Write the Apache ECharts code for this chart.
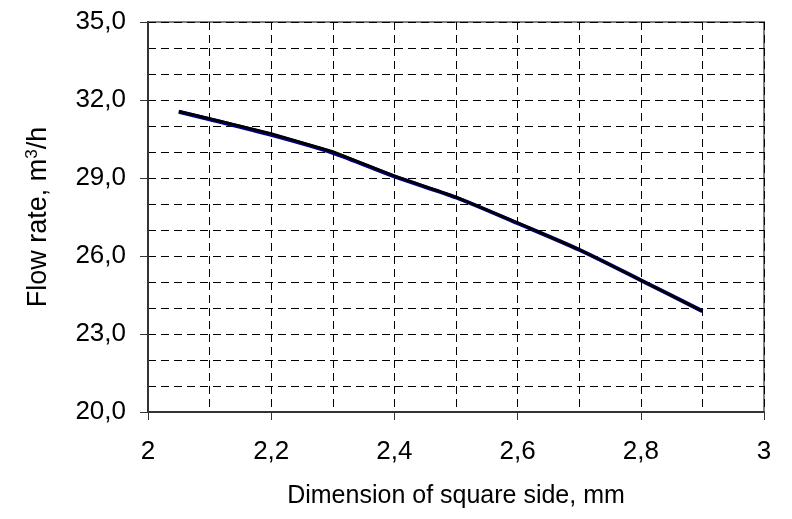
<!DOCTYPE html>
<html>
<head>
<meta charset="utf-8">
<script src="https://cdn.jsdelivr.net/npm/echarts@6/dist/echarts.min.js"></script>
<style>html,body{margin:0;padding:0;background:#fff}#c{width:792px;height:519px}</style>
</head>
<body>
<div id="c"></div>
<script>
var xValues = [2.05, 2.1, 2.2, 2.3, 2.4, 2.5, 2.6, 2.7, 2.8, 2.9];
var blueValues = [31.55, 31.26, 30.66, 29.97, 29.06, 28.25, 27.26, 26.24, 25.07, 23.88];
var blackValues = [31.57, 31.29, 30.71, 30.02, 29.08, 28.27, 27.28, 26.25, 25.07, 23.88];
var xTickLabels = ['2', '2,2', '2,4', '2,6', '2,8', '3'];

var chart = echarts.init(document.getElementById('c'), null, {renderer: 'canvas'});
var font = '"Liberation Sans", Arial, sans-serif';
function pairs(ys) { return xValues.map(function (x, i) { return [x, ys[i]]; }); }
var gridDash = {color: '#000', width: 1, type: [8, 5]};

chart.setOption({
  animation: false,
  backgroundColor: '#fff',
  grid: {left: 148, right: 28, top: 22, bottom: 107, show: true, borderColor: '#808080', borderWidth: 2, backgroundColor: 'transparent'},
  xAxis: {
    type: 'value', min: 2, max: 3, interval: 0.2,
    axisLine: {show: true, onZero: false, lineStyle: {color: '#333', width: 2}},
    axisTick: {show: true, inside: false, length: 8, lineStyle: {color: '#333', width: 1}},
    axisLabel: {margin: 27, fontSize: 26, color: '#000', fontFamily: font,
      formatter: function (v) { var i = Math.round((v - 2) / 0.2); return xTickLabels[i] !== undefined ? xTickLabels[i] : ''; }},
    splitLine: {show: true, lineStyle: gridDash},
    minorTick: {show: false, splitNumber: 2},
    minorSplitLine: {show: true, lineStyle: gridDash},
    name: 'Dimension of square side, mm', nameLocation: 'middle', nameGap: 72,
    nameTextStyle: {fontSize: 25, color: '#000', fontFamily: font}
  },
  yAxis: {
    type: 'value', min: 20, max: 35, interval: 3,
    axisLine: {show: true, onZero: false, lineStyle: {color: '#333', width: 2}},
    axisTick: {show: true, inside: false, length: 8, lineStyle: {color: '#333', width: 1}},
    axisLabel: {margin: 22, fontSize: 26, color: '#000', fontFamily: font,
      formatter: function (v) { return v.toFixed(1).replace('.', ','); }},
    splitLine: {show: true, lineStyle: gridDash},
    minorTick: {show: false, splitNumber: 3},
    minorSplitLine: {show: true, lineStyle: gridDash},
    name: 'Flow rate, m{sup|3}/h', nameLocation: 'middle', nameGap: 95, nameRotate: 90,
    nameTextStyle: {fontSize: 27, color: '#000', fontFamily: font,
      rich: {sup: {fontSize: 17, color: '#000', fontFamily: font, verticalAlign: 'top', padding: [0, 0, 12, 0]}}}
  },
  series: [
    {type: 'line', data: pairs(blueValues), smooth: 0.3, showSymbol: false, symbol: 'none',
      lineStyle: {color: '#000080', width: 4}, z: 2},
    {type: 'line', data: pairs(blackValues), smooth: false, showSymbol: false, symbol: 'none',
      lineStyle: {color: '#000', width: 2.5}, z: 3}
  ]
});
</script>
</body>
</html>
